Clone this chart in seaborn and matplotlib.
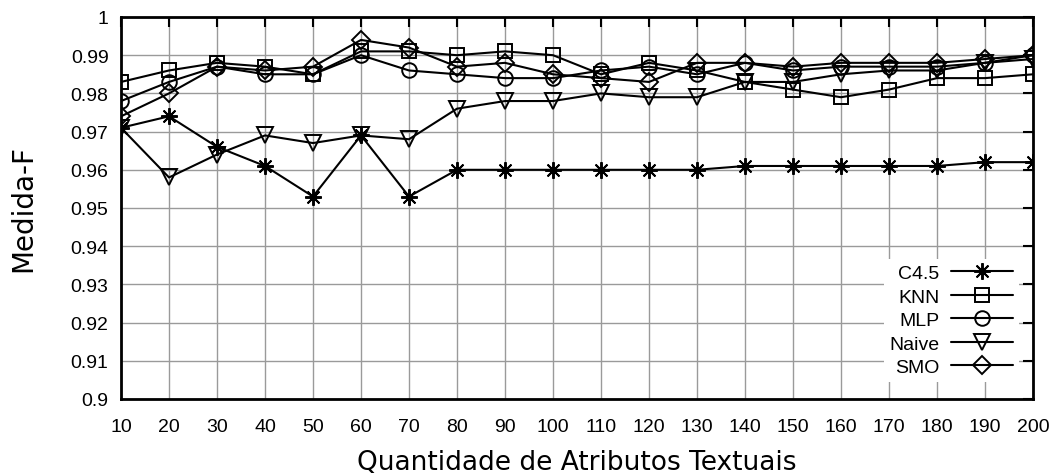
import matplotlib
matplotlib.use("Agg")
import matplotlib.pyplot as plt
import seaborn as sns
import numpy as np
import pandas as pd
from matplotlib.ticker import FuncFormatter

attrs = [10, 20, 30, 40, 50, 60, 70, 80, 90, 100, 110, 120, 130, 140, 150, 160, 170, 180, 190, 200]

c45 = [0.971, 0.974, 0.966, 0.961, 0.953, 0.969, 0.953, 0.960, 0.960, 0.960,
       0.960, 0.960, 0.960, 0.961, 0.961, 0.961, 0.961, 0.961, 0.962, 0.962]
knn = [0.983, 0.986, 0.988, 0.987, 0.985, 0.991, 0.991, 0.990, 0.991, 0.990,
       0.985, 0.988, 0.986, 0.983, 0.981, 0.979, 0.981, 0.984, 0.984, 0.985]
mlp = [0.978, 0.983, 0.987, 0.985, 0.985, 0.990, 0.986, 0.985, 0.984, 0.984,
       0.986, 0.987, 0.985, 0.988, 0.986, 0.987, 0.987, 0.987, 0.988, 0.990]
naive = [0.971, 0.958, 0.964, 0.969, 0.967, 0.969, 0.968, 0.976, 0.978, 0.978,
         0.980, 0.979, 0.979, 0.983, 0.983, 0.985, 0.986, 0.986, 0.988, 0.989]
smo = [0.974, 0.980, 0.987, 0.986, 0.987, 0.994, 0.992, 0.987, 0.988, 0.985,
       0.984, 0.983, 0.988, 0.988, 0.987, 0.988, 0.988, 0.988, 0.989, 0.990]

series_names = ["C4.5", "KNN", "MLP", "Naive", "SMO"]
series_values = [c45, knn, mlp, naive, smo]

xticks = list(range(10, 201, 10))
yticks = [0.90, 0.91, 0.92, 0.93, 0.94, 0.95, 0.96, 0.97, 0.98, 0.99, 1.00]

sns.set_style("white")
plt.rcParams['font.family'] = ['Liberation Sans', 'DejaVu Sans']
plt.rcParams['text.color'] = 'black'
plt.rcParams['axes.labelcolor'] = 'black'

fig = plt.figure(figsize=(10.58, 4.77), dpi=100)
ax = fig.add_axes([121/1058, 1 - 400/477, (1033-121)/1058, (400-18)/477])

styles = {
    "C4.5": dict(marker=(8, 2, 0), markersize=12),
    "KNN": dict(marker='s', markersize=10),
    "MLP": dict(marker='o', markersize=10.5),
    "Naive": dict(marker='v', markersize=11.5),
    "SMO": dict(marker='D', markersize=9.5),
}

for name, vals in zip(series_names, series_values):
    df = pd.DataFrame({"x": attrs, "y": vals})
    st = styles[name]
    sns.lineplot(data=df, x="x", y="y", ax=ax, color='black', linewidth=1.5,
                 marker=st["marker"], markersize=st["markersize"],
                 markerfacecolor='none', markeredgecolor='black',
                 markeredgewidth=1.4, label=name, zorder=3)

ax.set_xlim(10, 200)
ax.set_ylim(0.9, 1.0)
ax.set_xticks(xticks)
ax.set_yticks(yticks)
ax.yaxis.set_major_formatter(FuncFormatter(lambda v, p: f"{v:g}"))
ax.grid(True, color='#9a9a9a', linewidth=1.0, zorder=0)
ax.set_axisbelow(True)
for sp in ax.spines.values():
    sp.set_linewidth(2.0)
    sp.set_color('black')
ax.tick_params(direction='in', length=7, width=1.5, top=True, right=True,
               labelsize=14, colors='black')
ax.tick_params(axis='x', pad=14)
ax.tick_params(axis='y', pad=9)

ax.set_xlabel("Quantidade de Atributos Textuais", fontsize=19, family='DejaVu Sans', labelpad=10)
ax.set_ylabel("Medida-F", fontsize=20, family='DejaVu Sans', labelpad=24)

leg = ax.legend(loc='lower right', bbox_to_anchor=(0.985, 0.045), markerfirst=False,
                frameon=True, fontsize=14, handlelength=3.2, labelspacing=0.3,
                borderpad=0.3, handletextpad=0.6, borderaxespad=0)
leg.get_frame().set_facecolor('white')
leg.get_frame().set_edgecolor('white')
leg.get_frame().set_alpha(1)
leg.get_frame().set_linewidth(0)
leg.set_zorder(5)

fig.savefig("out.png", dpi=100)
